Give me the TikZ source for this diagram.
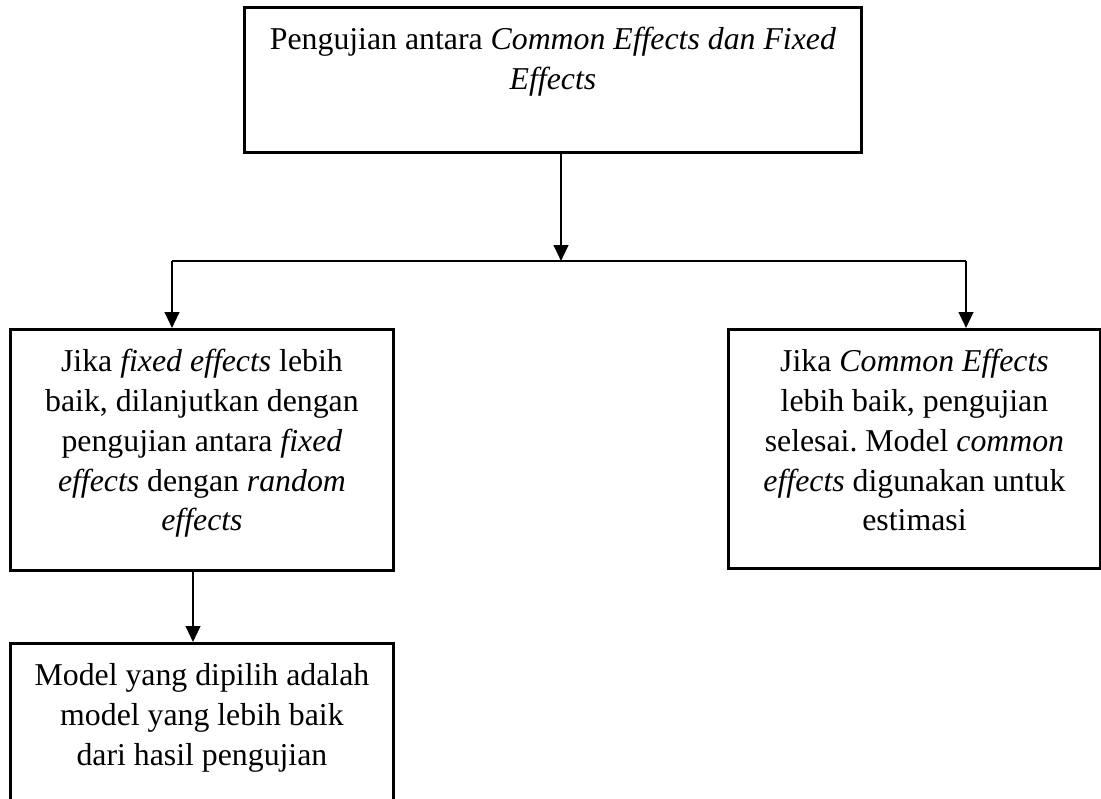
\documentclass[tikz,border=0pt]{standalone}
\usepackage{fontspec}
\setmainfont{Liberation Serif}
\usepackage{tikz}
\usetikzlibrary{calc,positioning,arrows.meta}
\frenchspacing
\newdimen\px
\px=0.3774pt
% box text: width, height (px), top aligned
\newcommand{\isi}[3]{\parbox[c][#2\px][t]{#1\px}{\centering\fontsize{12pt}{15pt}\selectfont\rule{0pt}{16pt}#3}}

\begin{document}
\begin{tikzpicture}[x=0.3774pt, y=-0.3774pt,
  kotak/.style={draw, line width=1.1pt, inner sep=0pt, anchor=north west},
  garis/.style={line width=0.8pt},
  panah/.style={line width=0.8pt, -{Triangle[length=6pt,width=5.5pt]}}]
  % page 1101 x 799 px
  \clip (0,0) rectangle (1101,799);

  % Boxes
  \node[kotak] (atas) at (243,6)
    {\isi{617}{145}{Pengujian antara \textit{Common Effects dan Fixed}\\ \textit{Effects}}};
  \node[kotak] (kiri) at (9,328)
    {\isi{383}{241}{Jika \textit{fixed effects} lebih\\ baik, dilanjutkan dengan\\ pengujian antara \textit{fixed}\\ \textit{effects} dengan \textit{random}\\ \textit{effects}}};
  \node[kotak] (kanan) at (727,328)
    {\isi{372}{239}{Jika \textit{Common Effects}\\ lebih baik, pengujian\\ selesai. Model \textit{common}\\ \textit{effects} digunakan untuk\\ estimasi}};
  \node[kotak] (bawah) at (9,642)
    {\isi{383}{200}{Model yang dipilih adalah\\ model yang lebih baik\\ dari hasil pengujian}};

  % Branch points
  \coordinate (cabang) at (561,261);
  \coordinate (tkiri) at (172,261);
  \coordinate (tkanan) at (966,261);
  \coordinate (turun) at (193,569);

  % Connectors
  \draw[panah] (atas.south -| cabang) -- (cabang);
  \draw[garis] (tkiri) -- (tkanan);
  \draw[panah] (tkiri) -- (tkiri |- kiri.north);
  \draw[panah] (tkanan) -- (tkanan |- kanan.north);
  \draw[panah] (kiri.south -| turun) -- (turun |- bawah.north);
\end{tikzpicture}
\end{document}
